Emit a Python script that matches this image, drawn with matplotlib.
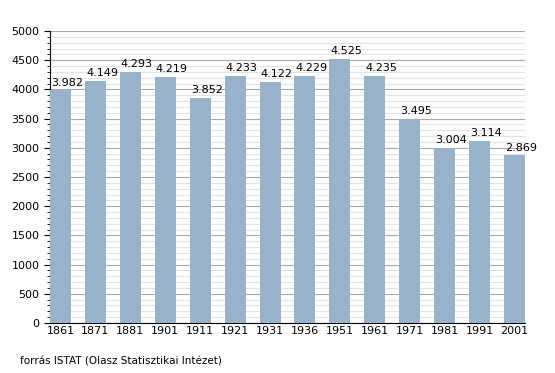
import matplotlib.pyplot as plt
from matplotlib.ticker import MultipleLocator

years = ['1861', '1871', '1881', '1901', '1911', '1921', '1931', '1936',
         '1951', '1961', '1971', '1981', '1991', '2001']
pop = [3982, 4149, 4293, 4219, 3852, 4233, 4122, 4229, 4525, 4235,
       3495, 3004, 3114, 2869]
labels = ['3.982', '4.149', '4.293', '4.219', '3.852', '4.233', '4.122',
          '4.229', '4.525', '4.235', '3.495', '3.004', '3.114', '2.869']

fig = plt.figure(figsize=(5.55, 3.73), dpi=100)
ax = fig.add_axes([50/555, 50/373, 475/555, 292/373])

w = 0.6
x = list(range(len(years)))
ax.bar(x, pop, width=w, color='#98b2cc', zorder=3)
for i in x:
    ax.text(i - w/2 + 0.03, pop[i] + 50, labels[i], ha='left', va='bottom',
            fontsize=8, zorder=4)

ax.set_xlim(-w/2, len(years) - 1 + w/2)
ax.set_ylim(0, 5000)
ax.yaxis.set_major_locator(MultipleLocator(500))
ax.yaxis.set_minor_locator(MultipleLocator(100))
ax.grid(axis='y', which='major', color='#aaaaaa', lw=0.8, zorder=0)
ax.grid(axis='y', which='minor', color='#e3e3e3', lw=0.8, zorder=0)
ax.set_xticks(x)
ax.set_xticklabels(years)
ax.tick_params(axis='x', length=0, labelsize=8, pad=2)
ax.tick_params(axis='y', which='major', length=4, labelsize=8)
ax.tick_params(axis='y', which='minor', length=2)
for s in ['top', 'right']:
    ax.spines[s].set_visible(False)

fig.text(20/555, 1 - 362/373, 'forrás ISTAT (Olasz Statisztikai Intézet)',
         fontsize=7.5, va='center')

fig.savefig('out.png', dpi=100)
